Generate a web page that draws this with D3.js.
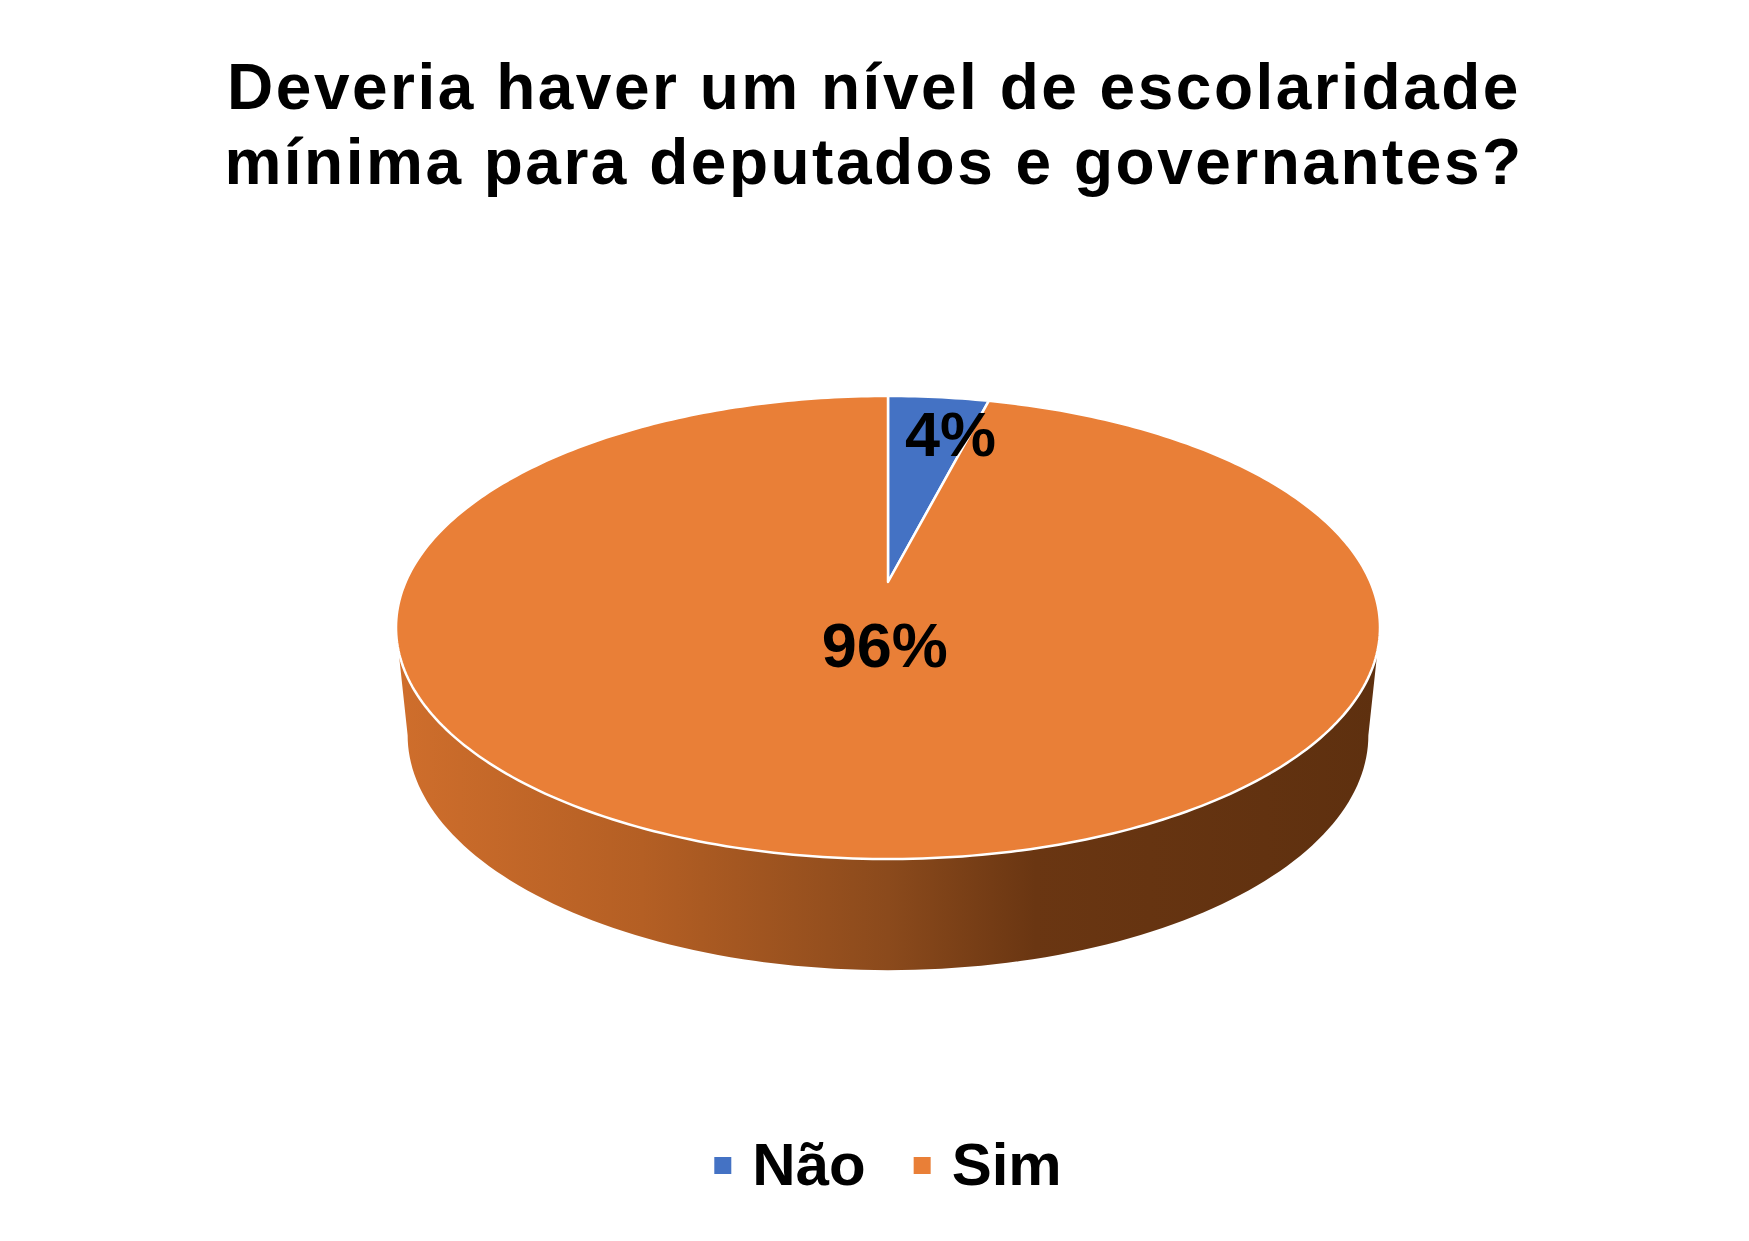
<!DOCTYPE html>
<html>
<head>
<meta charset="utf-8">
<script src="https://cdn.jsdelivr.net/npm/d3@7"></script>
<style>
  body { margin: 0; background: #fff; }
  text { font-family: "Liberation Sans", Arial, sans-serif; font-weight: bold; fill: #000; }
</style>
</head>
<body>
<div id="chart"></div>
<script>
// data
var categories = ['Não', 'Sim'];
var values = [4, 96];
var colors = ['#4472c4', '#e97f37'];
var titleLines = ['Deveria haver um nível de escolaridade', 'mínima para deputados e governantes?'];

var width = 1749,
  height = 1241;

var svg = d3
  .select('#chart')
  .append('svg')
  .attr('width', width)
  .attr('height', height);

// perspective of the pie plane: u right, v towards viewer
var K = 0.1965;
var topFace = { x0: 888, y0: 582, a: 482.4, b: 222.6 };
var bottomFace = { x0: 888, y0: 689, a: 471, b: 225.9 };

function proj(face, angle, r) {
  var u = r * Math.sin(angle),
    v = -r * Math.cos(angle),
    w = 1 - K * v;
  return [face.x0 + (face.a * u) / w, face.y0 + (face.b * v) / w];
}

function arcPoints(face, a0, a1, n) {
  return d3.range(n + 1).map(function(i) {
    return proj(face, a0 + ((a1 - a0) * i) / n, 1);
  });
}

var line = d3.line().curve(d3.curveLinear);

var pie = d3
  .pie()
  .sort(null)
  .value(function(d) {
    return d;
  });
var arcs = pie(values);

// gradient for the side wall
var grad = svg
  .append('defs')
  .append('linearGradient')
  .attr('id', 'side')
  .attr('gradientUnits', 'userSpaceOnUse')
  .attr('x1', 396)
  .attr('x2', 1380)
  .attr('y1', 0)
  .attr('y2', 0);
grad.append('stop').attr('offset', '0%').attr('stop-color', '#cf6e2c');
grad.append('stop').attr('offset', '25%').attr('stop-color', '#b45f24');
grad.append('stop').attr('offset', '50%').attr('stop-color', '#8b4a1c');
grad.append('stop').attr('offset', '65%').attr('stop-color', '#6a3612');
grad.append('stop').attr('offset', '100%').attr('stop-color', '#5e300f');

// side wall (front half only is visible)
var aRight = Math.acos(-K),
  aLeft = 2 * Math.PI - aRight;
var sidePts = arcPoints(topFace, aRight, aLeft, 120).concat(
  arcPoints(bottomFace, aLeft, aRight, 120)
);
svg
  .append('path')
  .attr('d', line(sidePts) + 'Z')
  .attr('fill', 'url(#side)');

// top face slices
svg
  .append('g')
  .selectAll('path')
  .data(arcs)
  .enter()
  .append('path')
  .attr('d', function(d) {
    var n = Math.max(4, Math.round((d.endAngle - d.startAngle) * 60));
    var pts = [proj(topFace, 0, 0)].concat(arcPoints(topFace, d.startAngle, d.endAngle, n));
    return line(pts) + 'Z';
  })
  .attr('fill', function(d, i) {
    return colors[i];
  })
  .attr('stroke', '#fff')
  .attr('stroke-width', 2.5)
  .attr('stroke-linejoin', 'round');

// data labels
function labelPos(d) {
  var big = d.endAngle - d.startAngle > Math.PI;
  var p = proj(topFace, (d.startAngle + d.endAngle) / 2, big ? 0.27 : 0.77);
  return [p[0] + (big ? 14 : 22), p[1]];
}

svg
  .append('g')
  .selectAll('text')
  .data(arcs)
  .enter()
  .append('text')
  .attr('x', function(d) {
    return labelPos(d)[0];
  })
  .attr('y', function(d) {
    return labelPos(d)[1];
  })
  .attr('dy', '0.35em')
  .attr('text-anchor', 'middle')
  .style('font-size', '63px')
  .text(function(d) {
    return d.value + '%';
  });

// title
svg
  .append('g')
  .selectAll('text')
  .data(titleLines)
  .enter()
  .append('text')
  .attr('x', 874)
  .attr('y', function(d, i) {
    return 109 + i * 75;
  })
  .attr('text-anchor', 'middle')
  .style('font-size', '64px')
  .style('letter-spacing', '2.5px')
  .text(function(d) {
    return d;
  });

// legend
var legend = svg.append('g');
var items = legend
  .selectAll('g')
  .data(categories)
  .enter()
  .append('g');
items
  .append('rect')
  .attr('width', 17)
  .attr('height', 17)
  .attr('y', 1157)
  .attr('fill', function(d, i) {
    return colors[i];
  });
items
  .append('text')
  .attr('y', 1185)
  .style('font-size', '60px')
  .text(function(d) {
    return d;
  });

var widths = [];
items.select('text').each(function() {
  widths.push(this.getComputedTextLength());
});
var total = 0;
widths.forEach(function(w, i) {
  total += 17 + 21 + w + (i < widths.length - 1 ? 48 : 0);
});
var xPos = 888 - total / 2;
items.each(function(d, i) {
  var g = d3.select(this);
  g.select('rect').attr('x', xPos);
  g.select('text').attr('x', xPos + 38);
  xPos += 17 + 21 + widths[i] + 48;
});
</script>
</body>
</html>
